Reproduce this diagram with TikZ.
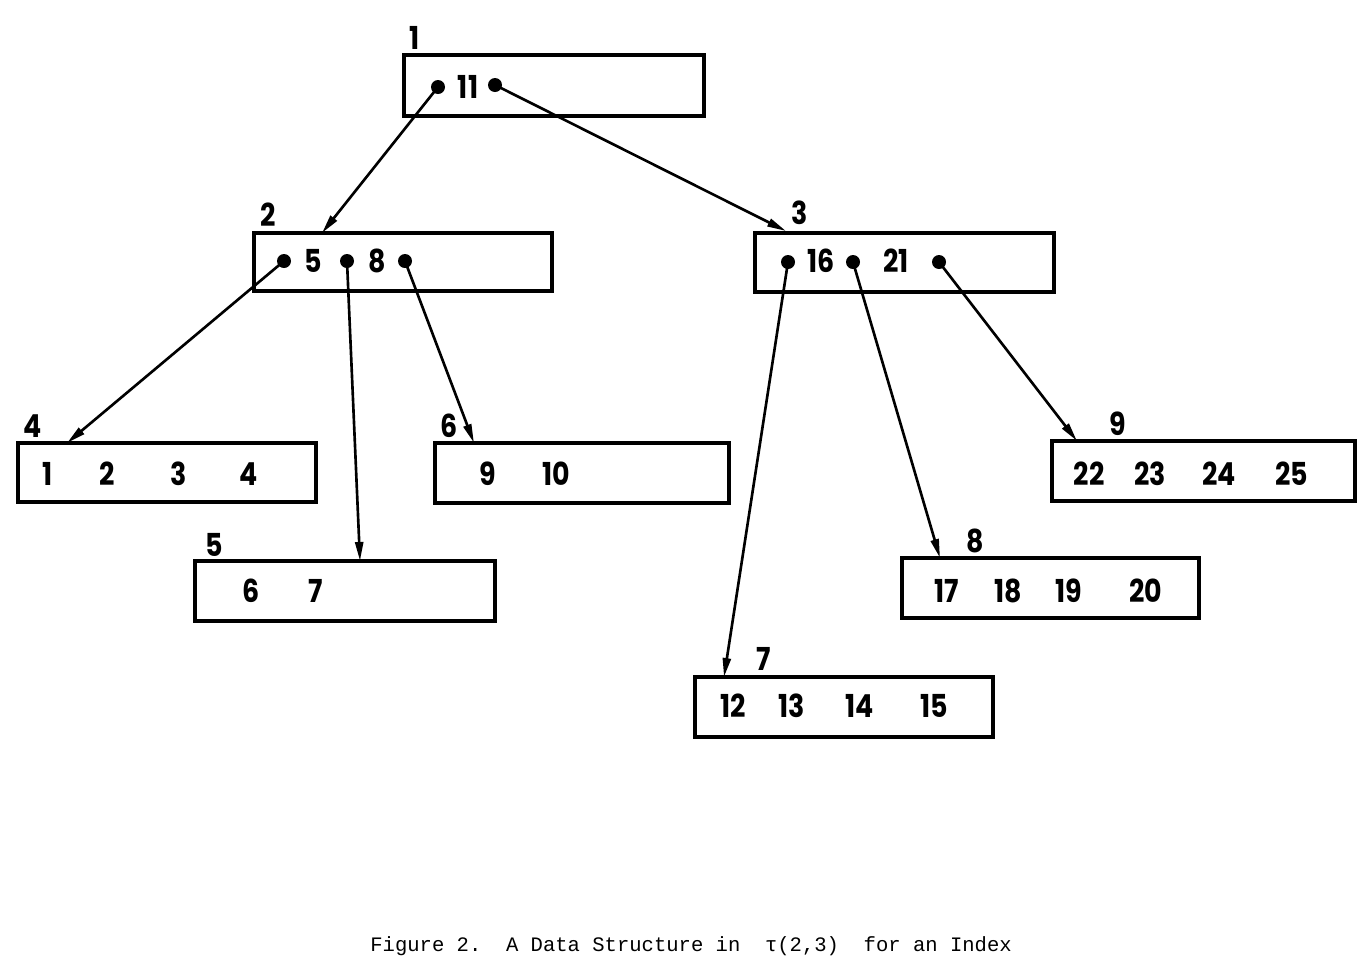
\documentclass[tikz,border=0pt]{standalone}
\usepackage{fontspec}
\newfontfamily\fut[FakeStretch=0.85]{Poppins}
\newfontfamily\capmono{Liberation Mono}
\usetikzlibrary{arrows.meta}
\begin{document}
\begin{tikzpicture}[x=0.02cm,y=-0.02cm,
  recbox/.style={draw, line width=1.8pt, inner sep=0pt},
  num/.style={font=\fut\bfseries\fontsize{18}{20}\selectfont, inner sep=0pt, anchor=center},
  ptr/.style={circle, fill=black, minimum size=0.28cm, inner sep=0pt},
  link/.style={line width=1.5pt, -{Triangle[length=0.38cm, width=0.16cm]}}]
\useasboundingbox (0,0) rectangle (1370,978);
% boxes
\node[recbox, minimum width=6cm, minimum height=1.22cm] (b1) at (554,85.5) {};
\node[recbox, minimum width=5.96cm, minimum height=1.16cm] (b2) at (403,262) {};
\node[recbox, minimum width=5.98cm, minimum height=1.18cm] (b3) at (904.5,262.5) {};
\node[recbox, minimum width=5.96cm, minimum height=1.18cm] (b4) at (167,472.5) {};
\node[recbox, minimum width=6cm, minimum height=1.2cm] (b5) at (345,591) {};
\node[recbox, minimum width=5.88cm, minimum height=1.2cm] (b6) at (582,473) {};
\node[recbox, minimum width=5.96cm, minimum height=1.2cm] (b7) at (844,707) {};
\node[recbox, minimum width=5.94cm, minimum height=1.2cm] (b8) at (1050.5,588) {};
\node[recbox, minimum width=6.06cm, minimum height=1.2cm] (b9) at (1203.5,471) {};
% box labels
\node[num] (l1) at (415,38) {1};
\node[num] (l2) at (268,215) {2};
\node[num] (l3) at (800,213) {3};
\node[num] (l4) at (33,426) {4};
\node[num] (l5) at (214,545) {5};
\node[num] (l6) at (449,426) {6};
\node[num] (l7) at (764,659) {7};
\node[num] (l8) at (975,541) {8};
\node[num] (l9) at (1118,424) {9};
% keys in inner nodes
\node[num] (k11) at (468,87) {11};
\node[num] (k5) at (313,261) {5};
\node[num] (k8) at (377,261) {8};
\node[num] (k16) at (821,261) {16};
\node[num] (k21) at (896,261) {21};
% pointers
\node[ptr] (p1a) at (438,87) {};
\node[ptr] (p1b) at (495,85) {};
\node[ptr] (p2a) at (284,261) {};
\node[ptr] (p2b) at (347,261) {};
\node[ptr] (p2c) at (405,261) {};
\node[ptr] (p3a) at (788,262) {};
\node[ptr] (p3b) at (853,262) {};
\node[ptr] (p3c) at (939,262) {};
% leaves
\node[num] (n1) at (48,474) {1};
\node[num] (n2) at (107,474) {2};
\node[num] (n3) at (179,474) {3};
\node[num] (n4) at (249,474) {4};
\node[num] (n6) at (251,591) {6};
\node[num] (n7) at (316,591) {7};
\node[num] (n9) at (488,474) {9};
\node[num] (n10) at (556,474) {10};
\node[num] (n12) at (733,706) {12};
\node[num] (n13) at (792,706) {13};
\node[num] (n14) at (860,706) {14};
\node[num] (n15) at (934,706) {15};
\node[num] (n17) at (947,591) {17};
\node[num] (n18) at (1008,591) {18};
\node[num] (n19) at (1069,591) {19};
\node[num] (n20) at (1146,591) {20};
\node[num] (n22) at (1089,474) {22};
\node[num] (n23) at (1150,474) {23};
\node[num] (n24) at (1219,474) {24};
\node[num] (n25) at (1292,474) {25};
% arrow targets
\coordinate (t2) at (322,233);
\coordinate (t3) at (786,231);
\coordinate (t4) at (67,443);
\coordinate (t5) at (360,561);
\coordinate (t6) at (474,443);
\coordinate (t7) at (724,677);
\coordinate (t8) at (940,558);
\coordinate (t9) at (1077,441);
\draw[link] (p1a.center) -- (t2);
\draw[link] (p1b.center) -- (t3);
\draw[link] (p2a.center) -- (t4);
\draw[link] (p2b.center) -- (t5);
\draw[link] (p2c.center) -- (t6);
\draw[link] (p3a.center) -- (t7);
\draw[link] (p3b.center) -- (t8);
\draw[link] (p3c.center) -- (t9);
% caption
\node[font=\capmono\fontsize{11.7}{14}\selectfont, inner sep=0pt, anchor=west] (cap) at (370,946)
  {Figure 2.\ \ A Data Structure in\ \ τ(2,3)\ \ for an Index};
\end{tikzpicture}
\end{document}
